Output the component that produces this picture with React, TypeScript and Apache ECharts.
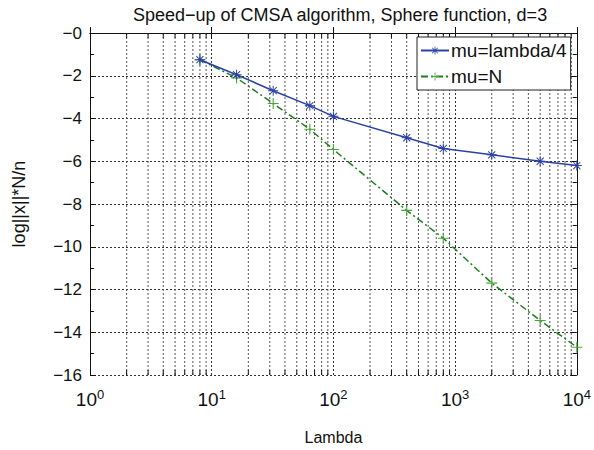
import React, { useEffect, useRef } from "react";
import * as echarts from "echarts";

const lambdas = [8, 16, 32, 64, 100, 400, 800, 2000, 5000, 10000];
const muQuarter = [-1.25, -1.95, -2.7, -3.4, -3.9, -4.9, -5.4, -5.7, -6.0, -6.2];
const muN = [-1.25, -2.1, -3.3, -4.5, -5.45, -8.3, -9.6, -11.7, -13.45, -14.7];
const seriesNames = ["mu=lambda/4", "mu=N"];
const decades = [0, 1, 2, 3];
const minorMultipliers = [2, 3, 4, 5, 6, 7, 8, 9];
const yTicks = { min: -16, max: 0, step: 2 };

const STAR =
  "path://M9 0L11 0L11 20L9 20Z M0 9L20 9L20 11L0 11Z M2.2 3.6L3.6 2.2L17.8 16.4L16.4 17.8Z M16.4 2.2L17.8 3.6L3.6 17.8L2.2 16.4Z";
const PLUS = "path://M9 0L11 0L11 20L9 20Z M0 9L20 9L20 11L0 11Z";

const FONT = "Liberation Sans, Arial, sans-serif";

export default function App() {
  const ref = useRef<HTMLDivElement>(null);
  useEffect(() => {
    if (!ref.current) return;
    const chart = echarts.init(ref.current, null, { renderer: "svg" });
    const minorVals: number[] = [];
    decades.forEach((d) => minorMultipliers.forEach((k) => minorVals.push(k * Math.pow(10, d))));

    const blueData = lambdas.map((l, i) => [l, muQuarter[i]]);
    const greenData = lambdas.map((l, i) => [l, muN[i]]);

    const option: any = {
      animation: false,
      backgroundColor: "#ffffff",
      textStyle: { fontFamily: FONT },
      title: {
        text: "Speed\u2212up of CMSA algorithm, Sphere function, d=3",
        left: 335,
        top: 1,
        textAlign: "center",
        textStyle: { fontSize: 18, fontWeight: "normal", color: "#111", fontFamily: FONT },
      },
      grid: { left: 90, right: 16, top: 33, bottom: 72, containLabel: false },
      legend: {
        orient: "vertical",
        left: 417,
        top: 37,
        data: seriesNames,
        borderColor: "#222",
        borderWidth: 1,
        backgroundColor: "#fff",
        padding: [4, 4, 4, 3],
        itemGap: 7,
        itemWidth: 28,
        itemHeight: 10,
        textStyle: { fontSize: 19, color: "#111", fontFamily: FONT, padding: [0, 0, 0, -3] },
      },
      xAxis: [
        {
          type: "log",
          logBase: 10,
          min: 1,
          max: 10000,
          name: "Lambda",
          nameLocation: "middle",
          nameGap: 54,
          nameTextStyle: { fontSize: 16, color: "#111", fontFamily: FONT },
          axisLine: { lineStyle: { color: "#111", width: 1 } },
          axisTick: { inside: true, length: 6, lineStyle: { color: "#111" } },
          axisLabel: {
            margin: 13,
            color: "#111",
            formatter: (v: number) => `{b|10}{s|${Math.round(Math.log10(v))}}`,
            rich: {
              b: { fontSize: 19, fontFamily: FONT, color: "#111" },
              s: { fontSize: 13, fontFamily: FONT, color: "#111", padding: [0, 0, 10, 0] },
            },
          },
          splitLine: { show: true, lineStyle: { color: "#333", type: [2, 2], width: 1 } },
        },
        {
          type: "log",
          logBase: 10,
          min: 1,
          max: 10000,
          position: "top",
          axisLine: { lineStyle: { color: "#111", width: 1 } },
          axisTick: { inside: true, length: 6, lineStyle: { color: "#111" } },
          axisLabel: { show: false },
          splitLine: { show: false },
        },
      ],
      yAxis: [
        {
          type: "value",
          min: yTicks.min,
          max: yTicks.max,
          interval: yTicks.step,
          name: "log||x||*N/n",
          nameLocation: "middle",
          nameGap: 62,
          nameTextStyle: { fontSize: 18, color: "#111", fontFamily: FONT },
          axisLine: { lineStyle: { color: "#111", width: 1 } },
          axisTick: { inside: true, length: 6, lineStyle: { color: "#111" } },
          minorTick: { show: true, splitNumber: 2, length: 4, lineStyle: { color: "#111" } },
          axisLabel: {
            fontSize: 17,
            color: "#111",
            fontFamily: FONT,
            margin: 8,
            formatter: (v: number) => "\u2212" + Math.abs(v),
          },
          splitLine: { show: true, lineStyle: { color: "#333", type: [2, 2], width: 1 } },
        },
        {
          type: "value",
          min: yTicks.min,
          max: yTicks.max,
          interval: yTicks.step,
          position: "right",
          axisLine: { show: true, lineStyle: { color: "#111", width: 1 } },
          axisTick: { show: true, inside: true, length: 6, lineStyle: { color: "#111" } },
          minorTick: { show: true, splitNumber: 2, length: 4, lineStyle: { color: "#111" } },
          axisLabel: { show: false },
          splitLine: { show: false },
        },
      ],
      series: [
        {
          type: "custom",
          silent: true,
          z: 1,
          xAxisIndex: 0,
          yAxisIndex: 0,
          data: minorVals.map((v) => [v, 0]),
          encode: { x: 0, y: 1 },
          renderItem: (params: any, api: any) => {
            const x = api.coord([api.value(0), 0])[0];
            const cs = params.coordSys;
            const top = cs.y;
            const bottom = cs.y + cs.height;
            return {
              type: "group",
              children: [
                {
                  type: "line",
                  shape: { x1: x, y1: top, x2: x, y2: bottom },
                  style: { stroke: "#555", lineWidth: 1, lineDash: [2, 2] },
                },
                {
                  type: "line",
                  shape: { x1: x, y1: bottom, x2: x, y2: bottom - 5 },
                  style: { stroke: "#111", lineWidth: 1 },
                },
                {
                  type: "line",
                  shape: { x1: x, y1: top, x2: x, y2: top + 5 },
                  style: { stroke: "#111", lineWidth: 1 },
                },
              ],
            };
          },
        },
        {
          name: seriesNames[0],
          type: "line",
          z: 5,
          data: blueData,
          color: "#2a42a4",
          lineStyle: { color: "#2a42a4", width: 1.5 },
          symbol: STAR,
          symbolSize: 10,
          itemStyle: { color: "#2a42a4" },
        },
        {
          name: seriesNames[1],
          type: "line",
          z: 4,
          data: greenData,
          color: "#1f8a1f",
          lineStyle: { color: "#1a7f1a", width: 1.5, type: [7, 3, 2, 3] },
          symbol: PLUS,
          symbolSize: 11,
          itemStyle: { color: "#4da63a" },
        },
      ],
    };
    chart.setOption(option);
    return () => chart.dispose();
  }, []);
  return (
    <div
      ref={ref}
      style={{ position: "fixed", left: 0, top: 0, width: 594, height: 450 }}
    />
  );
}
